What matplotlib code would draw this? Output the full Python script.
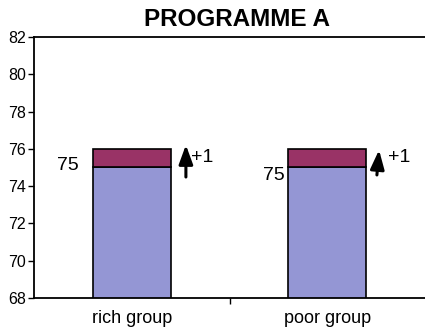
import matplotlib.pyplot as plt

plt.rcParams["font.family"] = ["Liberation Sans", "DejaVu Sans"]

groups = ["rich group", "poor group"]
base = [75, 75]
gain = [1, 1]
yticks = [68, 70, 72, 74, 76, 78, 80, 82]

fig = plt.figure(figsize=(4.25, 3.28), dpi=100)
ax = fig.add_axes([34 / 425, 30 / 328, 391 / 425, 261 / 328])

x = range(len(groups))
ax.bar(x, base, width=0.4, bottom=0, color="#9496D4", edgecolor="black", linewidth=1.2)
ax.bar(x, gain, width=0.4, bottom=base, color="#993366", edgecolor="black", linewidth=1.2)

# value labels and +1 arrows
arrow = dict(arrowstyle="-|>,head_width=0.42,head_length=1.15", color="black",
             lw=2.2, shrinkA=0, shrinkB=0)
ax.text(-0.326, base[0] + 0.13, str(base[0]), ha="center", va="center", fontsize=14)
ax.text(0.728, base[1] - 0.45, str(base[1]), ha="center", va="center", fontsize=14)
ax.annotate("", xy=(0.277, base[0] + 1.21), xytext=(0.277, base[0] - 0.51), arrowprops=arrow)
ax.text(0.359, base[0] + 0.56, "+%d" % gain[0], ha="center", va="center", fontsize=14)
ax.annotate("", xy=(1.265, base[1] + 0.94), xytext=(1.254, base[1] - 0.4), arrowprops=arrow)
ax.text(1.367, base[1] + 0.51, "+%d" % gain[1], ha="center", va="center", fontsize=14)

ax.set_ylim(68, 82)
ax.set_xlim(-0.5, 1.5)
ax.set_yticks(yticks)
ax.set_xticks([0.5])
ax.set_xticklabels([""])
for i, g in enumerate(groups):
    ax.text(i, 67.35, g, ha="center", va="top", fontsize=13)
ax.tick_params(axis="both", direction="out", length=4, width=1, labelsize=11.5, pad=2)
ax.spines["right"].set_visible(False)
for s in ["left", "bottom", "top"]:
    ax.spines[s].set_linewidth(1.3)
ax.set_title("PROGRAMME A", fontsize=17.5, fontweight="bold", pad=8, x=0.52)

fig.savefig("out.png", dpi=100)
